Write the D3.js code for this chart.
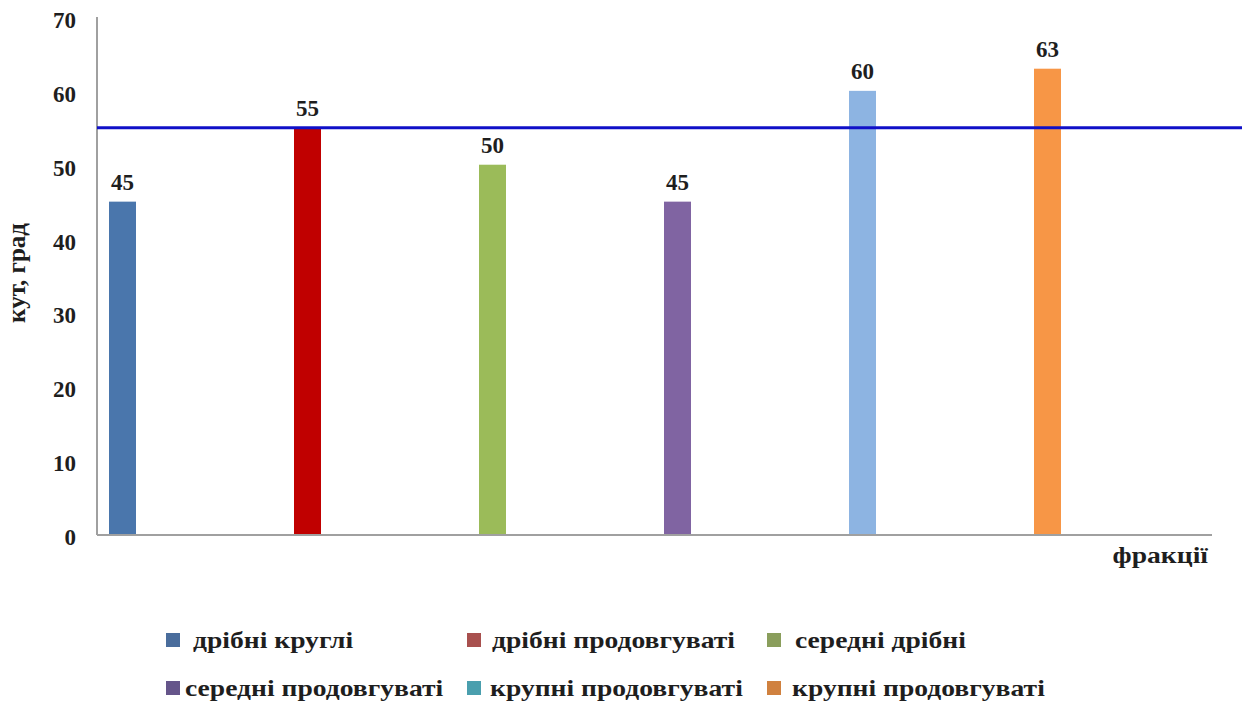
<!DOCTYPE html>
<html>
<head>
<meta charset="utf-8">
<title>Кут, град</title>
<script src="https://d3js.org/d3.v7.min.js"></script>
<style>
  body { margin: 0; background: #fff; }
  text { font-family: "Liberation Serif", "DejaVu Serif", serif; font-weight: bold; fill: #1e1e1e; }
  .tick-label { font-size: 23px; }
  .value { font-size: 23px; }
  .legend text { font-size: 24px; }
</style>
</head>
<body>
<script>
// data
var categories = ["дрібні круглі", "дрібні продовгуваті", "середні дрібні",
                  "середні продовгуваті", "крупні продовгуваті", "крупні продовгуваті "];
var values = [45, 55, 50, 45, 60, 63];
var barColors = ["#4a76ac", "#c00000", "#9bbb59", "#8064a2", "#8db4e2", "#f79646"];
var legendColors = ["#4a6d9c", "#a8504e", "#8a9e5c", "#65558a", "#4a9fae", "#d0813f"];
var yTicks = [0, 10, 20, 30, 40, 50, 60, 70];
var refValue = 55;

var width = 1248, height = 702;
var plotLeft = 97, plotRight = 1212, plotTop = 17, plotBottom = 534;
var stretch = 1.15; // the original picture is a bit wider than tall

var svg = d3.select("body").append("svg")
    .attr("width", width).attr("height", height);

var y = d3.scaleLinear().domain([0, 70]).range([plotBottom, plotTop]);
var x = d3.scaleBand().domain(d3.range(categories.length))
    .range([plotLeft, plotLeft + 185 * categories.length]);
var barW = 27, barOff = 12;

// axes lines
svg.append("line").attr("x1", plotLeft).attr("x2", plotLeft).attr("y1", plotTop).attr("y2", plotBottom + 1)
    .attr("stroke", "#a0a0a0").attr("stroke-width", 2);
svg.append("line").attr("x1", plotLeft).attr("x2", plotRight).attr("y1", plotBottom + 1).attr("y2", plotBottom + 1)
    .attr("stroke", "#a0a0a0").attr("stroke-width", 2);

// y tick labels
svg.selectAll(".tick-label").data(yTicks).enter().append("text")
    .attr("class", "tick-label")
    .attr("x", 76).attr("y", function(d){ return y(d) + 3; })
    .attr("dy", "0.35em").attr("text-anchor", "end")
    .text(function(d){ return d; });

// y title
svg.append("text").attr("transform", "translate(25,273) rotate(-90)")
    .attr("text-anchor", "middle").style("font-size", "25px").text("кут, град");

// x title
svg.append("text").attr("transform", "translate(1208,563) scale(" + stretch + ",1)")
    .attr("text-anchor", "end").style("font-size", "24px").text("фракції");

// bars
svg.selectAll(".bar").data(values).enter().append("rect")
    .attr("class", "bar")
    .attr("x", function(d, i){ return x(i) + barOff; })
    .attr("width", barW)
    .attr("y", function(d){ return y(d); })
    .attr("height", function(d){ return y(0) - y(d); })
    .attr("fill", function(d, i){ return barColors[i]; });

// value labels
svg.selectAll(".value").data(values).enter().append("text")
    .attr("class", "value")
    .attr("x", function(d, i){ return x(i) + barOff + barW / 2; })
    .attr("y", function(d){ return y(d) - 12; })
    .attr("text-anchor", "middle")
    .text(function(d){ return d; });

// reference line
svg.append("line").attr("x1", plotLeft).attr("x2", 1242)
    .attr("y1", y(refValue)).attr("y2", y(refValue))
    .attr("stroke", "#1010c8").attr("stroke-width", 3);

// legend
var colX = [166, 467, 767], rowY = [640, 688], textOff = [[27, 25, 28], [19, 23, 25]];
var legend = svg.append("g").attr("class", "legend")
    .selectAll("g").data(categories).enter().append("g")
    .attr("transform", function(d, i){
        return "translate(" + colX[i % 3] + "," + rowY[Math.floor(i / 3)] + ")";
    });
legend.append("rect").attr("x", 0).attr("y", -7).attr("width", 14).attr("height", 14)
    .attr("fill", function(d, i){ return legendColors[i]; });
legend.append("text")
    .attr("transform", function(d, i){
        return "translate(" + textOff[Math.floor(i / 3)][i % 3] + ",8) scale(" + stretch + ",1)";
    })
    .text(function(d){ return d.trim(); });
</script>
</body>
</html>
